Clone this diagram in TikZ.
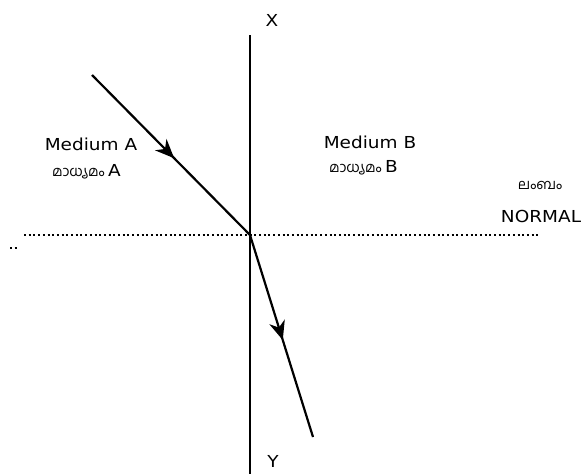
\documentclass[tikz,border=0pt]{standalone}
\usepackage{fontspec}
\setmainfont[FakeStretch=1.12]{DejaVu Sans}
\newfontfamily\mlfont[Script=Malayalam]{Hind Kochi}
\usepackage{tikz}
\usetikzlibrary{decorations.markings,arrows.meta,positioning,calc}

\newcommand{\latinbig}{\fontspec{DejaVu Sans}[FakeStretch=1.12]\fontsize{16.5}{19}\selectfont}

\tikzset{
	ray/.style={line width=2.2pt, postaction={decorate},
		decoration={markings, mark=at position 0.52 with {\arrow{Stealth[length=19pt,width=16pt,inset=6pt]}}}},
	axisline/.style={line width=2pt},
	surface/.style={line width=2pt, dash pattern=on 2pt off 2.7pt},
	lbl/.style={font=\fontsize{16.5}{19}\selectfont, inner sep=0pt},
	mal/.style={font=\mlfont\fontsize{14}{16}\selectfont, inner sep=0pt}
}

\begin{document}
\begin{tikzpicture}[x=1pt, y=-1pt]
		\useasboundingbox (0,0) rectangle (585,474);

		% normal and surface
		\coordinate (top) at (250,35);
		\coordinate (bot) at (250,474);
		\coordinate (left) at (24,235);
		\coordinate (right) at (540,235);
		\coordinate (O) at (250,235);
		\draw[axisline] (top) -- (bot);
		\draw[surface] (left) -- (right);
		\coordinate (d1) at (10,248);
		\coordinate (d2) at (18,248);
		\draw[surface] (d1) -- (d2);

		% rays
		\coordinate (inc) at (92,75);
		\coordinate (ref) at (313,437);
		\draw[ray] (inc) -- (O);
		\draw[ray] (O) -- (ref);

		% labels
		\node[lbl] (X) at (272,20) {X};
		\node[lbl] (Y) at (273,461) {Y};
		\node[lbl] (medA) at (91,144) {Medium A};
		\node[mal, anchor=west] (malA) at (52,172) {മാധ്യമം {\latinbig A}};
		\node[lbl] (medB) at (370,142) {Medium B};
		\node[mal, anchor=west] (malB) at (329,168) {മാധ്യമം {\latinbig B}};
		\node[mal] (lambam) at (540,185) {ലംബം};
		\node[lbl] (normal) at (541,216) {NORMAL};
	\end{tikzpicture}
\end{document}
